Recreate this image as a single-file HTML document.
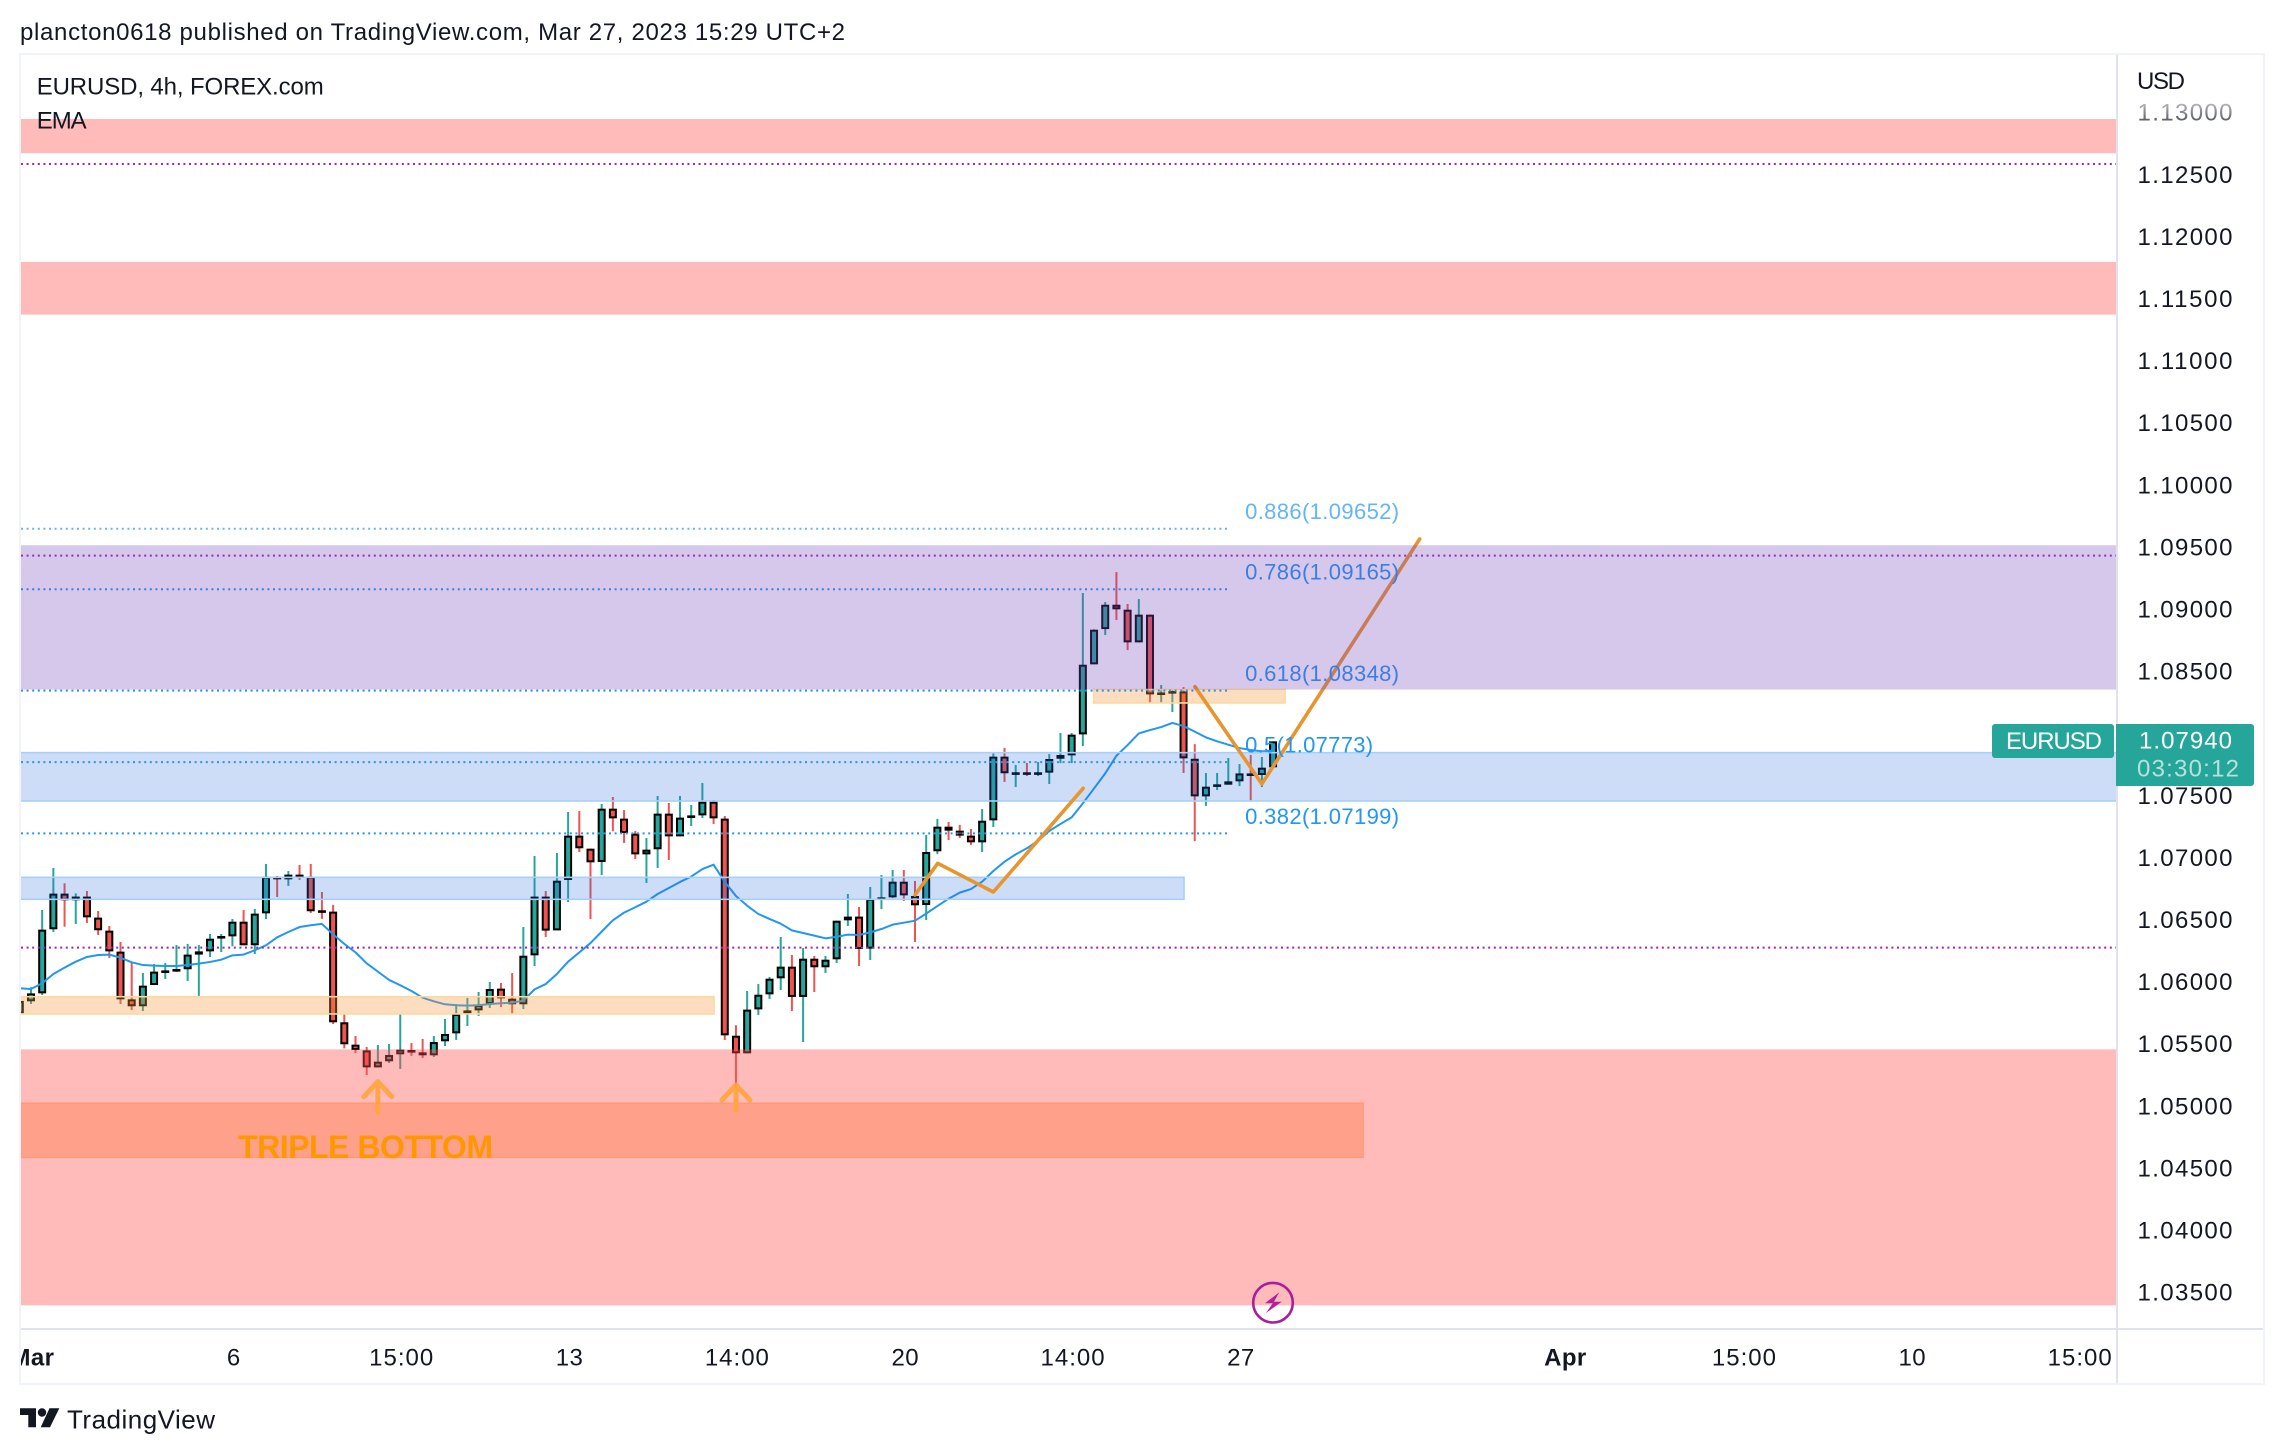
<!DOCTYPE html>
<html lang="en">
<head>
<meta charset="utf-8">
<title>EURUSD 4h chart</title>
<style>
html,body{margin:0;padding:0;background:#fff;width:2284px;height:1454px;overflow:hidden}
svg{display:block;font-family:"Liberation Sans",sans-serif}
text{fill:#131722}
.tick{font-size:24px}
.fib{font-size:22px}
</style>
</head>
<body>
<svg id="chart" xmlns="http://www.w3.org/2000/svg" width="2284" height="1454" viewBox="0 0 2284 1454">
<defs>
<clipPath id="pane-clip"><rect x="21" y="55" width="2095" height="1273"/></clipPath>
<clipPath id="time-clip"><rect x="21" y="1330" width="2242" height="54"/></clipPath>
<linearGradient id="fade-tick" x1="0" y1="0" x2="0" y2="1"><stop offset="0" stop-color="#c8c9cc"/><stop offset="1" stop-color="#3a3e48"/></linearGradient>
</defs>
<rect x="0" y="0" width="2284" height="1454" fill="#fff"/>
<text x="20" y="40" font-size="24" textLength="825" lengthAdjust="spacing">plancton0618 published on TradingView.com, Mar 27, 2023 15:29 UTC+2</text>
<rect x="20" y="54" width="2244" height="1330" fill="#fff" stroke="#f0f3fa" stroke-width="2"/>

<g clip-path="url(#pane-clip)">
  <g id="layer-candles"></g>
  <g id="layer-ema"></g>
  <g id="layer-zones"></g>
  <g id="layer-levels"></g>
  <g id="layer-drawings"></g>
  <g id="layer-fib-labels"></g>
  <g id="layer-overlay"></g>
  <g id="layer-arrows"></g>
  <text x="238" y="1158" font-size="32" font-weight="700" textLength="255" lengthAdjust="spacing" style="fill:#ff9800">TRIPLE BOTTOM</text>
</g>

<rect x="2116" y="55" width="2" height="1328" fill="#e0e3eb"/>
<rect x="21" y="1328" width="2242" height="2" fill="#e0e3eb"/>
<g id="layer-price-axis"></g>
<g id="layer-time-axis" clip-path="url(#time-clip)"></g>
<text x="36.7" y="94.5" font-size="24" textLength="287" lengthAdjust="spacing">EURUSD, 4h, FOREX.com</text>
<text x="36.7" y="128.5" font-size="24" textLength="50" lengthAdjust="spacing">EMA</text>
<text x="2137" y="89" font-size="24" textLength="48" lengthAdjust="spacing">USD</text>

<g>
  <rect x="1992" y="724" width="122" height="34" rx="3" fill="#26a69a"/>
  <text x="2006" y="749" font-size="24" textLength="96" lengthAdjust="spacing" style="fill:#fff">EURUSD</text>
  <path d="M2116 724H2251a3 3 0 0 1 3 3V783a3 3 0 0 1-3 3H2116Z" fill="#26a69a"/>
  <text x="2139" y="748.5" font-size="24" textLength="93" lengthAdjust="spacing" style="fill:#fff">1.07940</text>
  <text x="2137" y="776.5" font-size="24" textLength="102" lengthAdjust="spacing" style="fill:#b4e2dc">03:30:12</text>
</g>

<g>
  <circle cx="1273" cy="1302.7" r="19.8" fill="none" stroke="#a81f9e" stroke-width="2.6"/>
  <path d="M1279.3 1292.3L1265 1303.3H1272.7L1266 1313L1281.7 1301.7H1274Z" fill="#b3219c"/>
</g>

<g>
  <path d="M20 1408.3H36V1427.3H28.3V1415H20Z" fill="#131722"/>
  <circle cx="42" cy="1412.5" r="4.2" fill="#131722"/>
  <path d="M49.5 1408.3H59.3L50 1427.3H40.7Z" fill="#131722"/>
  <text x="67" y="1428.3" font-size="26" textLength="148" lengthAdjust="spacing">TradingView</text>
</g>
</svg>

<script>
const opens=[1.05750,1.05847,1.05911,1.06427,1.06714,1.06660,1.06690,1.06521,1.06416,1.06247,1.05863,1.05807,1.05978,1.06086,1.06094,1.06105,1.06223,1.06249,1.06354,1.06370,1.06488,1.06298,1.06555,1.06851,1.06829,1.06867,1.06851,1.06580,1.06569,1.05678,1.05498,1.05452,1.05315,1.05364,1.05420,1.05455,1.05436,1.05412,1.05525,1.05589,1.05750,1.05774,1.05825,1.05949,1.05868,1.05823,1.06217,1.06690,1.06418,1.06824,1.07181,1.07076,1.06969,1.07398,1.07318,1.07197,1.07030,1.07071,1.07358,1.07175,1.07328,1.07344,1.07454,1.07318,1.05570,1.05428,1.05782,1.05903,1.06032,1.06126,1.05882,1.06190,1.06121,1.06185,1.06499,1.06529,1.06271,1.06676,1.06684,1.06810,1.06695,1.06622,1.07055,1.07253,1.07221,1.07181,1.07127,1.07304,1.07817,1.07680,1.07691,1.07680,1.07688,1.07800,1.07827,1.07996,1.08560,1.08844,1.09040,1.09000,1.08737,1.08960,1.08318,1.08332,1.08342,1.07800,1.07497,1.07575,1.07591,1.07618,1.07682,1.07669,1.07731];
const highs=[1.05858,1.05960,1.06582,1.06920,1.06797,1.06716,1.06735,1.06574,1.06453,1.06325,1.06156,1.06075,1.06147,1.06156,1.06300,1.06309,1.06300,1.06389,1.06389,1.06510,1.06582,1.06590,1.06953,1.06856,1.06896,1.06945,1.06953,1.06727,1.06623,1.05745,1.05568,1.05479,1.05495,1.05503,1.05745,1.05511,1.05544,1.05568,1.05705,1.05825,1.05874,1.05922,1.06003,1.05994,1.06075,1.06445,1.07017,1.06735,1.07041,1.07371,1.07379,1.07076,1.07436,1.07492,1.07387,1.07218,1.07162,1.07500,1.07444,1.07500,1.07428,1.07605,1.07468,1.07339,1.05654,1.05930,1.05986,1.06043,1.06365,1.06220,1.06276,1.06212,1.06212,1.06496,1.06711,1.06606,1.06767,1.06864,1.06904,1.06904,1.06816,1.07186,1.07315,1.07291,1.07267,1.07234,1.07395,1.07844,1.07887,1.07750,1.07766,1.07774,1.07838,1.08007,1.08007,1.09134,1.08842,1.09062,1.09303,1.09046,1.09086,1.08960,1.08393,1.08353,1.08377,1.07918,1.07685,1.07685,1.07806,1.07757,1.07830,1.07814,1.07940];
const lows=[1.05750,1.05825,1.05898,1.06405,1.06448,1.06470,1.06478,1.06381,1.06196,1.05825,1.05777,1.05769,1.05978,1.06027,1.06083,1.06011,1.05890,1.06204,1.06244,1.06290,1.06298,1.06228,1.06510,1.06687,1.06776,1.06824,1.06558,1.06510,1.05664,1.05468,1.05431,1.05254,1.05315,1.05350,1.05302,1.05407,1.05391,1.05399,1.05487,1.05536,1.05648,1.05729,1.05793,1.05801,1.05745,1.05785,1.06131,1.06365,1.06418,1.06647,1.07049,1.06510,1.06864,1.07216,1.07122,1.06993,1.06800,1.06920,1.06985,1.07175,1.07259,1.07323,1.07275,1.05535,1.05173,1.05428,1.05737,1.05866,1.05938,1.05769,1.05519,1.05922,1.06075,1.06155,1.06453,1.06131,1.06180,1.06590,1.06679,1.06655,1.06325,1.06502,1.07033,1.07146,1.07162,1.07106,1.07049,1.07250,1.07613,1.07573,1.07661,1.07661,1.07597,1.07765,1.07765,1.07902,1.08560,1.08796,1.08917,1.08675,1.08737,1.08249,1.08254,1.08176,1.07685,1.07137,1.07419,1.07548,1.07591,1.07580,1.07459,1.07572,1.07731];
const closes=[1.05850,1.05911,1.06424,1.06714,1.06660,1.06690,1.06523,1.06419,1.06249,1.05863,1.05807,1.05973,1.06086,1.06096,1.06107,1.06223,1.06249,1.06351,1.06373,1.06488,1.06298,1.06553,1.06851,1.06829,1.06867,1.06851,1.06572,1.06566,1.05678,1.05501,1.05455,1.05315,1.05361,1.05415,1.05458,1.05436,1.05412,1.05519,1.05584,1.05745,1.05774,1.05817,1.05946,1.05871,1.05823,1.06214,1.06690,1.06416,1.06818,1.07181,1.07079,1.06966,1.07398,1.07320,1.07202,1.07030,1.07068,1.07358,1.07175,1.07326,1.07344,1.07454,1.07320,1.05573,1.05428,1.05780,1.05900,1.06029,1.06126,1.05882,1.06190,1.06121,1.06182,1.06496,1.06529,1.06268,1.06673,1.06684,1.06810,1.06700,1.06620,1.07049,1.07253,1.07221,1.07181,1.07127,1.07301,1.07817,1.07683,1.07691,1.07680,1.07691,1.07798,1.07830,1.07994,1.08557,1.08839,1.09040,1.09003,1.08737,1.08960,1.08318,1.08334,1.08345,1.07803,1.07497,1.07575,1.07594,1.07618,1.07682,1.07671,1.07728,1.07940];
const emaValues=[1.05952,1.05946,1.05992,1.06067,1.06118,1.06166,1.06204,1.06220,1.06223,1.06198,1.06161,1.06139,1.06134,1.06131,1.06131,1.06139,1.06150,1.06164,1.06182,1.06217,1.06223,1.06258,1.06298,1.06362,1.06405,1.06445,1.06459,1.06470,1.06386,1.06309,1.06241,1.06153,1.06086,1.06019,1.05976,1.05930,1.05876,1.05847,1.05823,1.05815,1.05812,1.05815,1.05825,1.05831,1.05836,1.05852,1.05943,1.05986,1.06067,1.06166,1.06241,1.06316,1.06408,1.06499,1.06561,1.06604,1.06649,1.06711,1.06759,1.06808,1.06851,1.06912,1.06947,1.06808,1.06695,1.06617,1.06550,1.06510,1.06472,1.06418,1.06397,1.06376,1.06354,1.06367,1.06384,1.06381,1.06402,1.06429,1.06464,1.06480,1.06496,1.06553,1.06614,1.06673,1.06722,1.06751,1.06810,1.06896,1.06971,1.07030,1.07079,1.07140,1.07218,1.07275,1.07328,1.07441,1.07561,1.07682,1.07824,1.07910,1.08004,1.08031,1.08055,1.08088,1.08063,1.08018,1.07972,1.07940,1.07913,1.07886,1.07870,1.07859,1.07865];

const priceTicks=[1.13,1.125,1.12,1.115,1.11,1.105,1.1,1.095,1.09,1.085,1.075,1.07,1.065,1.06,1.055,1.05,1.045,1.04,1.035];
const timeTickBars=[1,19,34,49,64,79,94,109,138,154,169,184];
const timeTickLabels=['Mar','6','15:00','13','14:00','20','14:00','27','Apr','15:00','10','15:00'];
const timeTickBold=['Mar','Apr'];

const zoneNames=['resistance-zone-top','resistance-zone-upper','support-zone-lower','demand-zone-main','demand-zone-small','order-block-left','order-block-right','deep-demand-zone'];
const zoneTops=[1.12951,1.11800,1.05460,1.07849,1.06845,1.05884,1.08357,1.05026];
const zoneBottoms=[1.12675,1.11376,1.03399,1.07460,1.06668,1.05745,1.08249,1.04591];
const zoneEndBars=[200,200,200,200,104.04,62.04,113.07,120.04];
const zoneStartBars=[-3,-3,-3,-3,-3,-3,95.97,-3];
const zoneFills=['rgba(255,82,82,.4)','rgba(255,82,82,.4)','rgba(255,82,82,.4)','rgba(38,107,220,.23)','rgba(38,107,220,.23)','rgba(245,150,60,.32)','rgba(245,150,60,.32)','rgba(255,120,63,.39)'];
const zoneBorders=['none','none','none','#a6d0f9','#a6d0f9','#fcd99e','#fcd99e','#ff9a78'];

const overlayTop=1.09519;
const overlayBottom=1.08357;

const purpleLevels=[1.12589,1.09435,1.06279];
const fibRatios=['0.886','0.786','0.618','0.5','0.382'];
const fibPrices=[1.09652,1.09165,1.08348,1.07773,1.07199];
const fibColors=['#64b5f6','#2196f3','#2196f3','#2196f3','#2196f3'];
const fibLabelWidths=[154,154,154,128,154];
const fibEndBar=108;
const fibLabelBar=109.5;

const drawingOneBars=[80,82.03,87,95.03];
const drawingOnePrices=[1.06703,1.06958,1.06727,1.07562];
const drawingTwoBars=[105.02,111,125.1];
const drawingTwoPrices=[1.0838,1.07597,1.09569];
const arrowBars=[32,64];
const arrowTipPrices=[1.05200,1.05173];
const arrowTailPrices=[1.04950,1.04972];

const NS='http://www.w3.org/2000/svg';
const PANE_LEFT=21,PANE_RIGHT=2116;
const BAR_ZERO_X=19.8,BAR_STEP=11.19;
const REF_PRICE=1.075,REF_Y=796,PX_PER_PRICE=12420;
function xOf(bar){return BAR_ZERO_X+bar*BAR_STEP;}
function yOf(price){return REF_Y+(REF_PRICE-price)*PX_PER_PRICE;}
function make(tag,attrs){
  const el=document.createElementNS(NS,tag);
  for(const k in attrs){el.setAttribute(k,attrs[k]);}
  return el;
}
const layerCandles=document.getElementById('layer-candles');
const layerEma=document.getElementById('layer-ema');
const layerZones=document.getElementById('layer-zones');
const layerLevels=document.getElementById('layer-levels');
const layerDrawings=document.getElementById('layer-drawings');
const layerFibLabels=document.getElementById('layer-fib-labels');
const layerOverlay=document.getElementById('layer-overlay');
const layerArrows=document.getElementById('layer-arrows');
const layerPriceAxis=document.getElementById('layer-price-axis');
const layerTimeAxis=document.getElementById('layer-time-axis');

opens.forEach(function(open,i){
  const close=closes[i];
  const color=close>=open?'#26a69a':'#ef5350';
  const x=xOf(i);
  const wick=make('line',{x1:x,x2:x,y1:yOf(highs[i]),y2:yOf(lows[i]),stroke:color,'stroke-width':2});
  
  
  layerCandles.appendChild(wick);
  const top=yOf(Math.max(open,close));
  const bottom=yOf(Math.min(open,close));
  const body=make('rect',{x:x-3,y:top+1,width:6,height:Math.max(bottom-top-2,0.6),fill:color,stroke:'#000','stroke-width':2});
  
  
  layerCandles.appendChild(body);
});

const emaLine=make('polyline',{points:emaValues.map(function(v,i){return xOf(i)+','+yOf(v);}).join(' '),fill:'none',stroke:'#2196f3','stroke-width':2,'stroke-linejoin':'round'});


layerEma.appendChild(emaLine);

zoneNames.forEach(function(name,i){
  const left=Math.max(xOf(zoneStartBars[i]),PANE_LEFT-3);
  const right=Math.min(xOf(zoneEndBars[i]),PANE_RIGHT+3);
  const top=yOf(zoneTops[i]);
  const bottom=yOf(zoneBottoms[i]);
  const zone=make('rect',{x:left,y:top,width:right-left,height:bottom-top,fill:zoneFills[i]});
  if(zoneBorders[i]!=='none'){
    zone.setAttribute('stroke',zoneBorders[i]);
    zone.setAttribute('stroke-width','1.6');
  }
  
  
  layerZones.appendChild(zone);
});

purpleLevels.forEach(function(price){
  const level=make('line',{x1:PANE_LEFT,x2:PANE_RIGHT,y1:yOf(price),y2:yOf(price),stroke:'#9c27b0','stroke-width':2,'stroke-dasharray':'2 3.6'});
  
  
  layerLevels.appendChild(level);
});

fibPrices.forEach(function(price,i){
  const y=yOf(price);
  const line=make('line',{x1:PANE_LEFT,x2:xOf(fibEndBar),y1:y,y2:y,stroke:fibColors[i],'stroke-width':2,'stroke-dasharray':'2 3.6'});
  
  
  layerLevels.appendChild(line);
  const label=make('text',{x:xOf(fibLabelBar),y:y-9.6,class:'fib',textLength:fibLabelWidths[i],lengthAdjust:'spacing'});
  label.style.fill=fibColors[i];
  label.textContent=fibRatios[i]+'('+price.toFixed(5)+')';
  
  
  layerFibLabels.appendChild(label);
});

function polyPoints(bars,prices){
  return bars.map(function(b,i){return xOf(b)+','+yOf(prices[i]);}).join(' ');
}
const drawingOne=make('polyline',{points:polyPoints(drawingOneBars,drawingOnePrices),fill:'none',stroke:'#e8952f','stroke-width':3.6,'stroke-linejoin':'round','stroke-linecap':'round'});


layerDrawings.appendChild(drawingOne);
const drawingTwo=make('polyline',{points:polyPoints(drawingTwoBars,drawingTwoPrices),fill:'none',stroke:'#e8952f','stroke-width':3.6,'stroke-linejoin':'round','stroke-linecap':'round'});


layerDrawings.appendChild(drawingTwo);

const overlayZone=make('rect',{x:PANE_LEFT,y:yOf(overlayTop),width:PANE_RIGHT-PANE_LEFT,height:yOf(overlayBottom)-yOf(overlayTop),fill:'rgba(118,72,188,.3)'});


layerOverlay.appendChild(overlayZone);

arrowBars.forEach(function(bar,i){
  const x=xOf(bar);
  const tip=yOf(arrowTipPrices[i]);
  const tail=yOf(arrowTailPrices[i]);
  const arrow=make('path',{d:'M'+x+' '+tail+'V'+tip+'M'+(x-14)+' '+(tip+15)+'L'+x+' '+tip+'L'+(x+14)+' '+(tip+15),fill:'none',stroke:'#ffa53a','stroke-width':5,'stroke-linecap':'round','stroke-linejoin':'round','stroke-opacity':.9});
  
  
  layerArrows.appendChild(arrow);
});

priceTicks.forEach(function(price,i){
  const tick=make('text',{x:2137.5,y:yOf(price)+7.8,class:'tick',textLength:95,lengthAdjust:'spacing'});
  if(i===0){tick.style.fill='url(#fade-tick)';}
  tick.textContent=price.toFixed(5);
  
  
  layerPriceAxis.appendChild(tick);
});

timeTickBars.forEach(function(bar,i){
  const label=timeTickLabels[i];
  const tick=make('text',{x:xOf(bar)+1.4,y:1365.5,class:'tick','text-anchor':'middle','letter-spacing':label.length>3?1:0.4});
  if(timeTickBold.indexOf(label)>=0){tick.setAttribute('font-weight','700');}
  tick.textContent=label;
  
  
  layerTimeAxis.appendChild(tick);
});
</script>
</body>
</html>
